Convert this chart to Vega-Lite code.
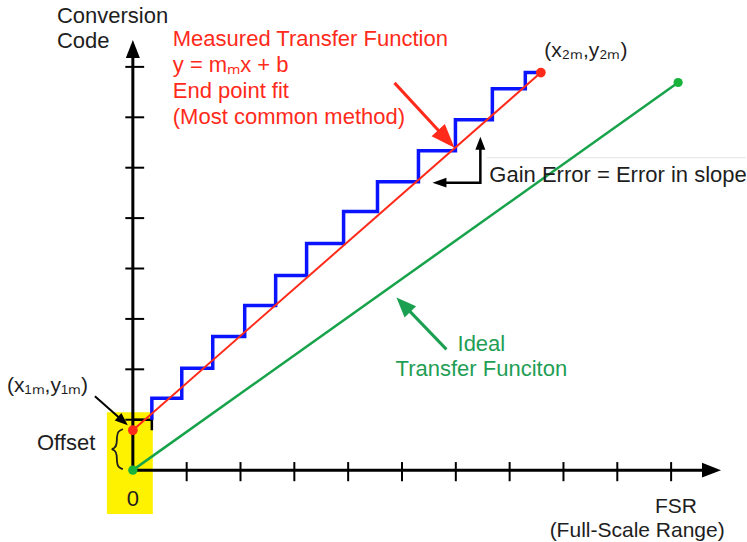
{
  "$schema": "https://vega.github.io/schema/vega-lite/v6.json",
  "width": 747,
  "height": 542,
  "padding": 0,
  "autosize": {"type": "fit", "contains": "padding"},
  "background": "white",
  "config": {"view": {"stroke": null}},
  "encoding": {
    "x": {"field": "x", "type": "quantitative", "scale": {"domain": [-2.468, 11.391], "nice": false, "zero": false}, "axis": null},
    "y": {"field": "y", "type": "quantitative", "scale": {"domain": [-1.406, 9.327], "nice": false, "zero": false}, "axis": null}
  },
  "layer": [
    {
      "data": {"values": [{"x": -0.482, "x2": 0.371, "y": -0.871, "y2": 1.149}]},
      "mark": {"type": "rect", "color": "#fff200"},
      "encoding": {"x2": {"field": "x2"}, "y2": {"field": "y2"}}
    },
    {
      "data": {"values": [{"x": 6.568, "y": 6.198, "x2": 11.391, "y2": 6.198}]},
      "mark": {"type": "rule", "color": "#e4e4e4", "strokeWidth": 1},
      "encoding": {"x2": {"field": "x2"}, "y2": {"field": "y2"}}
    },
    {
      "data": {"values": [
        {"x": 0, "y": 0, "x2": 0, "y2": 8.4},
        {"x": 0, "y": 0, "x2": 10.7, "y2": 0}
      ]},
      "mark": {"type": "rule", "color": "#000000", "strokeWidth": 3},
      "encoding": {"x2": {"field": "x2"}, "y2": {"field": "y2"}}
    },
    {
      "data": {"values": [
        {"x": 1, "y": -0.22, "x2": 1, "y2": 0.16},
        {"x": 2, "y": -0.22, "x2": 2, "y2": 0.16},
        {"x": 3, "y": -0.22, "x2": 3, "y2": 0.16},
        {"x": 4, "y": -0.22, "x2": 4, "y2": 0.16},
        {"x": 5, "y": -0.22, "x2": 5, "y2": 0.16},
        {"x": 6, "y": -0.22, "x2": 6, "y2": 0.16},
        {"x": 7, "y": -0.22, "x2": 7, "y2": 0.16},
        {"x": 8, "y": -0.22, "x2": 8, "y2": 0.16},
        {"x": 9, "y": -0.22, "x2": 9, "y2": 0.16},
        {"x": 10, "y": -0.22, "x2": 10, "y2": 0.16},
        {"x": -0.14, "y": 1, "x2": 0.21, "y2": 1},
        {"x": -0.14, "y": 2, "x2": 0.21, "y2": 2},
        {"x": -0.14, "y": 3, "x2": 0.21, "y2": 3},
        {"x": -0.14, "y": 4, "x2": 0.21, "y2": 4},
        {"x": -0.14, "y": 5, "x2": 0.21, "y2": 5},
        {"x": -0.14, "y": 6, "x2": 0.21, "y2": 6},
        {"x": -0.14, "y": 7, "x2": 0.21, "y2": 7},
        {"x": -0.14, "y": 8, "x2": 0.21, "y2": 8}
      ]},
      "mark": {"type": "rule", "color": "#000000", "strokeWidth": 2},
      "encoding": {"x2": {"field": "x2"}, "y2": {"field": "y2"}}
    },
    {
      "data": {"values": [
        {"i": 0, "x": 0.0, "y": 1.0},
        {"i": 1, "x": 0.353, "y": 1.0},
        {"i": 2, "x": 0.353, "y": 0.79}
      ]},
      "mark": {"type": "line", "color": "#000000", "strokeWidth": 2.5},
      "encoding": {"order": {"field": "i"}}
    },
    {
      "data": {"values": [
        {"x": 0, "y": 0},
        {"x": 10.13, "y": 7.69}
      ]},
      "mark": {"type": "line", "color": "#17a34a", "strokeWidth": 2.5},
      "encoding": {}
    },
    {
      "data": {"values": [
        {"i": 0, "x": 0.353, "y": 1.0},
        {"i": 1, "x": 0.353, "y": 1.426},
        {"i": 2, "x": 0.909, "y": 1.426},
        {"i": 3, "x": 0.909, "y": 2.02},
        {"i": 4, "x": 1.484, "y": 2.02},
        {"i": 5, "x": 1.484, "y": 2.653},
        {"i": 6, "x": 2.078, "y": 2.653},
        {"i": 7, "x": 2.078, "y": 3.267},
        {"i": 8, "x": 2.653, "y": 3.267},
        {"i": 9, "x": 2.653, "y": 3.861},
        {"i": 10, "x": 3.228, "y": 3.861},
        {"i": 11, "x": 3.228, "y": 4.495},
        {"i": 12, "x": 3.915, "y": 4.495},
        {"i": 13, "x": 3.915, "y": 5.129},
        {"i": 14, "x": 4.545, "y": 5.129},
        {"i": 15, "x": 4.545, "y": 5.723},
        {"i": 16, "x": 5.306, "y": 5.723},
        {"i": 17, "x": 5.306, "y": 6.337},
        {"i": 18, "x": 5.993, "y": 6.337},
        {"i": 19, "x": 5.993, "y": 6.95},
        {"i": 20, "x": 6.679, "y": 6.95},
        {"i": 21, "x": 6.679, "y": 7.564},
        {"i": 22, "x": 7.291, "y": 7.564},
        {"i": 23, "x": 7.291, "y": 7.887},
        {"i": 24, "x": 7.58, "y": 7.887}
      ]},
      "mark": {"type": "line", "color": "#0a14ff", "strokeWidth": 3.5, "strokeJoin": "miter"},
      "encoding": {"order": {"field": "i"}}
    },
    {
      "data": {"values": [
        {"x": 0, "y": 0.792},
        {"x": 7.58, "y": 7.887}
      ]},
      "mark": {"type": "line", "color": "#ff2a1a", "strokeWidth": 2},
      "encoding": {}
    },
    {
      "data": {"values": [
        {"x": 0, "y": 0.792},
        {"x": 7.58, "y": 7.887}
      ]},
      "mark": {"type": "circle", "color": "#ff2a1a", "opacity": 1, "size": 95},
      "encoding": {}
    },
    {
      "data": {"values": [
        {"x": 0, "y": 0},
        {"x": 10.13, "y": 7.69}
      ]},
      "mark": {"type": "circle", "color": "#17b33a", "opacity": 1, "size": 85},
      "encoding": {}
    },
    {
      "data": {"values": [{"x": 4.861, "y": 7.683, "x2": 5.824, "y2": 6.57}]},
      "mark": {"type": "rule", "color": "#ff2a1a", "strokeWidth": 3},
      "encoding": {"x2": {"field": "x2"}, "y2": {"field": "y2"}}
    },
    {
      "data": {"values": [{"x": 5.826, "y": 2.396, "x2": 5.026, "y2": 3.283}]},
      "mark": {"type": "rule", "color": "#1aa050", "strokeWidth": 3},
      "encoding": {"x2": {"field": "x2"}, "y2": {"field": "y2"}}
    },
    {
      "data": {"values": [{"x": -0.705, "y": 1.465, "x2": -0.184, "y2": 0.976}]},
      "mark": {"type": "rule", "color": "#000000", "strokeWidth": 2},
      "encoding": {"x2": {"field": "x2"}, "y2": {"field": "y2"}}
    },
    {
      "data": {"values": [
        {"i": 0, "x": 5.75, "y": 5.703},
        {"i": 1, "x": 6.456, "y": 5.703},
        {"i": 2, "x": 6.456, "y": 6.4}
      ]},
      "mark": {"type": "line", "color": "#000000", "strokeWidth": 2.5, "strokeJoin": "miter"},
      "encoding": {"order": {"field": "i"}}
    },
    {
      "data": {"values": [
        {"i": 0, "x": -0.186, "y": 0.812},
        {"i": 1, "x": -0.278, "y": 0.772},
        {"i": 2, "x": -0.297, "y": 0.673},
        {"i": 3, "x": -0.297, "y": 0.515},
        {"i": 4, "x": -0.334, "y": 0.436},
        {"i": 5, "x": -0.408, "y": 0.416},
        {"i": 6, "x": -0.334, "y": 0.396},
        {"i": 7, "x": -0.297, "y": 0.317},
        {"i": 8, "x": -0.297, "y": 0.158},
        {"i": 9, "x": -0.278, "y": 0.059},
        {"i": 10, "x": -0.186, "y": 0.02}
      ]},
      "mark": {"type": "line", "color": "#1e1e1e", "strokeWidth": 1.8, "interpolate": "basis"},
      "encoding": {"order": {"field": "i"}}
    },
    {
      "data": {"values": [{"x": 0, "y": 8.356}]},
      "mark": {"type": "point", "filled": true, "opacity": 1, "color": "#000000", "shape": "M0,-1L0.78,1L-0.78,1Z", "size": 324, "angle": 0},
      "encoding": {}
    },
    {
      "data": {"values": [{"x": 10.75, "y": 0}]},
      "mark": {"type": "point", "filled": true, "opacity": 1, "color": "#000000", "shape": "M0,-1L0.78,1L-0.78,1Z", "size": 361, "angle": 90},
      "encoding": {}
    },
    {
      "data": {"values": [{"x": 5.824, "y": 6.57}]},
      "mark": {"type": "point", "filled": true, "opacity": 1, "color": "#ff2a1a", "shape": "M0,-1L0.75,1L-0.75,1Z", "size": 576, "angle": 137.3},
      "encoding": {}
    },
    {
      "data": {"values": [{"x": 5.026, "y": 3.283}]},
      "mark": {"type": "point", "filled": true, "opacity": 1, "color": "#1aa050", "shape": "M0,-1L0.8,1L-0.8,1Z", "size": 400, "angle": 316},
      "encoding": {}
    },
    {
      "data": {"values": [{"x": -0.184, "y": 0.976}]},
      "mark": {"type": "point", "filled": true, "opacity": 1, "color": "#000000", "shape": "M0,-1L0.77,1L-0.77,1Z", "size": 169, "angle": 131.3},
      "encoding": {}
    },
    {
      "data": {"values": [{"x": 6.456, "y": 6.485}]},
      "mark": {"type": "point", "filled": true, "opacity": 1, "color": "#000000", "shape": "M0,-1L0.77,1L-0.77,1Z", "size": 169, "angle": 0},
      "encoding": {}
    },
    {
      "data": {"values": [{"x": 5.696, "y": 5.703}]},
      "mark": {"type": "point", "filled": true, "opacity": 1, "color": "#000000", "shape": "M0,-1L0.7,1L-0.7,1Z", "size": 196, "angle": 270},
      "encoding": {}
    },
    {
      "data": {"values": [
        {"x": -1.41, "y": 8.871, "t": "Conversion"},
        {"x": -1.41, "y": 8.376, "t": "Code"},
        {"x": -1.781, "y": 0.396, "t": "Offset"},
        {"x": 6.623, "y": 5.723, "t": "Gain Error = Error in slope"}
      ]},
      "mark": {"type": "text", "align": "left", "baseline": "alphabetic", "font": "Liberation Sans", "fontSize": 22, "color": "#1e1e1e"},
      "encoding": {"text": {"field": "t"}}
    },
    {
      "data": {"values": [
        {"x": -2.338, "y": 1.545, "t": "(x₁ₘ,y₁ₘ)"},
        {"x": 7.644, "y": 8.198, "t": "(x₂ₘ,y₂ₘ)"}
      ]},
      "mark": {"type": "text", "align": "left", "baseline": "alphabetic", "font": "Liberation Sans", "fontSize": 21, "color": "#1e1e1e"},
      "encoding": {"text": {"field": "t"}}
    },
    {
      "data": {"values": [
        {"x": 0, "y": -0.713}
      ]},
      "mark": {"type": "text", "align": "center", "baseline": "alphabetic", "font": "Liberation Sans", "fontSize": 22, "color": "#1e1e1e", "text": "0"},
      "encoding": {}
    },
    {
      "data": {"values": [
        {"x": 10.09, "y": -0.851, "t": "FSR"},
        {"x": 9.369, "y": -1.327, "t": "(Full-Scale Range)"}
      ]},
      "mark": {"type": "text", "align": "center", "baseline": "alphabetic", "font": "Liberation Sans", "fontSize": 21, "color": "#1e1e1e"},
      "encoding": {"text": {"field": "t"}}
    },
    {
      "data": {"values": [
        {"x": 0.742, "y": 8.416, "t": "Measured Transfer Function"},
        {"x": 0.742, "y": 7.901, "t": "y = mₘx + b"},
        {"x": 0.742, "y": 7.386, "t": "End point fit"},
        {"x": 0.742, "y": 6.871, "t": "(Most common method)"}
      ]},
      "mark": {"type": "text", "align": "left", "baseline": "alphabetic", "font": "Liberation Sans", "fontSize": 22, "color": "#ff2a1a"},
      "encoding": {"text": {"field": "t"}}
    },
    {
      "data": {"values": [
        {"x": 6.475, "y": 2.356, "t": "Ideal"},
        {"x": 6.475, "y": 1.861, "t": "Transfer Funciton"}
      ]},
      "mark": {"type": "text", "align": "center", "baseline": "alphabetic", "font": "Liberation Sans", "fontSize": 22, "color": "#1f9e55"},
      "encoding": {"text": {"field": "t"}}
    }
  ]
}
